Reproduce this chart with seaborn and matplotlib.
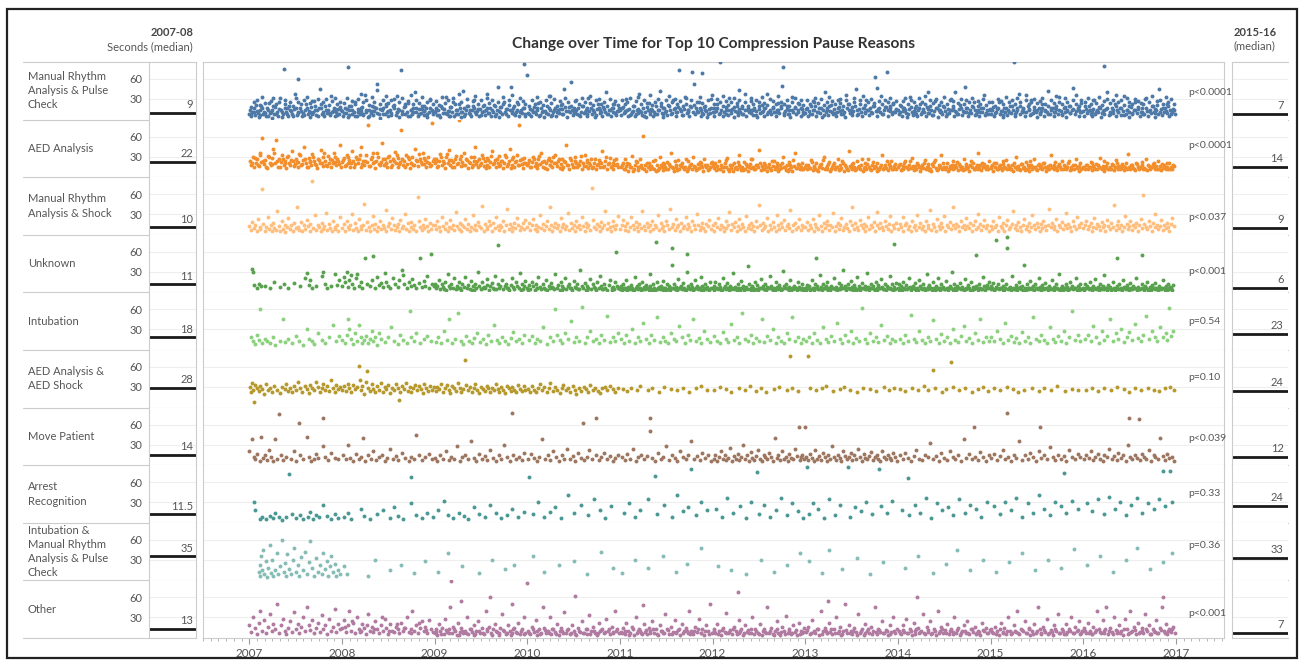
import matplotlib.pyplot as plt
import matplotlib.patches as patches
import matplotlib.ticker as mticker
from matplotlib.lines import Line2D
import pandas as pd
import seaborn as sns

W, H = 1304, 666

reasons = [
    'Manual Rhythm\nAnalysis & Pulse\nCheck',
    'AED Analysis',
    'Manual Rhythm\nAnalysis & Shock',
    'Unknown',
    'Intubation',
    'AED Analysis &\nAED Shock',
    'Move Patient',
    'Arrest\nRecognition',
    'Intubation &\nManual Rhythm\nAnalysis & Pulse\nCheck',
    'Other',
]
colors = ['#4e79a7', '#f28e2b', '#ffbe7d', '#59a14f', '#8cd17d',
          '#b6992d', '#9d7660', '#499894', '#86bcb6', '#b07aa1']
median_0708 = [9, 22, 10, 11, 18, 28, 14, 11.5, 35, 13]
median_1516 = [7, 14, 9, 6, 23, 24, 12, 24, 33, 7]
p_values = ['p<0.0001', 'p<0.0001', 'p<0.037', 'p<0.001', 'p=0.54',
            'p=0.10', 'p<0.039', 'p=0.33', 'p=0.36', 'p<0.001']
years = list(range(2007, 2017))

# pauses: one string per year (2007..2016),
# token "hh:s" = hundredths of the year : pause length in seconds
manual_pulse = [
    "00:8 01:14 02:4 03:11 05:17 06:6 07:21 09:9 10:3 12:13 13:19 15:7 16:11 18:5 19:16 21:24 22:9 24:2 25:14 27:8 28:18 30:11 31:5 33:31 34:13 36:7 37:75 38:16 40:10 42:4 43:20 45:12 46:8 48:15 49:38 51:6 52:60 53:11 55:17 57:4 58:9 60:14 61:22 63:7 64:12 66:3 67:18 69:10 70:27 72:6 73:13 75:16 76:45 78:8 79:11 81:4 82:19 84:9 85:14 87:6 88:34 90:12 91:17 93:5 94:10 96:15 97:8 99:13",
    "00:12 01:5 03:16 04:9 06:78 07:3 08:13 10:19 11:7 13:10 14:26 16:4 17:15 19:8 20:12 22:18 23:6 25:36 26:11 28:3 29:14 31:9 32:20 34:6 35:12 37:16 38:44 40:8 41:2 43:13 44:17 46:7 47:22 49:10 50:5 52:14 53:9 55:19 56:30 58:6 59:11 61:15 62:3 64:73 65:12 67:18 68:7 70:10 71:24 73:5 74:14 76:8 77:17 79:40 80:11 82:4 83:15 85:9 86:20 88:6 89:12 91:16 92:3 94:10 95:28 97:14 98:7",
    "00:10 01:17 03:6 04:13 06:3 07:19 09:9 10:15 12:33 13:7 15:12 16:4 18:18 19:10 21:5 22:23 24:13 25:8 27:16 28:3 30:11 31:42 33:7 34:14 36:20 37:9 39:5 40:13 42:17 43:28 45:8 46:12 48:4 49:15 51:10 52:19 54:6 55:13 57:38 58:9 60:16 61:5 63:11 64:21 66:7 67:14 69:3 70:12 72:18 73:8 75:26 76:10 78:15 79:5 81:13 82:48 84:9 85:17 87:6 88:11 90:22 91:4 93:14 94:9 96:82 97:16 98:7",
    "00:66 01:9 03:15 04:4 06:11 07:18 09:7 10:13 12:24 13:5 15:16 16:10 18:3 19:12 21:19 22:8 24:14 25:35 27:6 28:11 30:17 31:4 33:13 34:9 36:21 37:15 39:7 40:45 42:12 43:3 45:18 46:10 48:14 49:6 51:27 52:12 54:8 55:16 57:4 58:11 60:20 61:9 63:14 64:5 66:31 67:12 69:17 70:7 72:10 73:3 75:15 76:23 78:9 79:13 81:5 82:18 84:11 85:40 87:7 88:14 90:4 91:16 93:10 94:22 96:6 97:12 99:17",
    "00:13 01:6 03:18 04:9 06:12 07:30 09:5 10:15 12:8 13:11 15:20 16:4 18:14 19:9 21:38 22:12 24:6 25:17 27:10 28:3 30:13 31:24 33:8 34:15 36:5 37:11 39:19 40:7 42:14 43:42 45:9 46:3 48:16 49:11 51:6 52:21 54:13 55:8 57:28 58:15 60:4 61:10 63:18 64:73 66:12 67:6 69:15 70:33 72:9 73:13 75:4 76:19 78:70 79:11 81:7 82:16 84:10 85:25 87:5 88:14 89:69 90:8 91:18 93:12 94:3 96:15 97:9 99:36",
    "00:11 01:16 02:5 04:12 05:22 07:8 08:85 09:14 11:4 12:10 14:18 15:7 17:13 18:31 20:9 21:15 23:3 24:12 26:19 27:6 29:44 30:11 32:16 33:8 35:13 36:4 38:20 39:10 41:14 42:27 44:6 45:17 47:12 48:3 50:15 51:9 53:21 54:12 56:5 57:16 59:38 60:10 62:14 63:7 65:18 66:11 68:4 69:13 71:24 72:9 74:16 75:50 76:78 77:6 78:12 80:19 81:8 83:14 84:3 86:33 87:11 89:17 90:7 92:13 93:22 95:5 96:15 98:10",
    "00:9 01:15 03:4 04:12 06:19 07:7 09:13 10:26 12:5 13:11 15:17 16:9 18:3 19:14 21:40 22:10 24:16 25:6 27:12 28:21 30:8 31:15 33:4 34:11 36:18 37:30 39:7 40:13 42:10 43:3 45:16 46:23 48:9 49:14 51:6 52:12 54:19 55:45 57:8 58:15 60:11 61:4 63:17 64:10 66:28 67:13 69:6 70:16 72:9 73:20 75:63 76:12 78:5 79:15 81:10 82:35 84:7 85:14 87:18 88:70 89:4 91:12 92:16 94:8 95:24 97:11 98:14",
    "00:14 01:8 03:19 04:5 06:12 07:16 09:9 10:3 12:15 13:33 15:11 16:6 18:17 19:10 21:4 22:13 24:22 25:8 27:15 28:11 30:5 31:18 33:41 34:9 36:14 37:6 39:12 40:27 42:16 43:3 45:10 46:14 48:7 49:19 51:12 52:5 54:15 55:9 57:30 58:13 60:17 61:4 63:11 64:8 66:15 67:21 69:6 70:12 72:48 73:10 75:16 76:4 78:13 79:9 81:18 82:25 84:7 85:11 87:14 88:5 90:17 91:10 93:36 94:6 96:13 97:8 99:15",
    "00:7 01:13 03:18 04:4 06:11 07:15 09:26 10:8 12:12 13:3 15:16 16:10 18:6 19:14 21:20 22:9 24:13 25:85 26:5 28:11 29:17 31:38 32:7 34:12 35:15 37:4 38:10 40:19 41:13 43:6 44:29 46:9 47:14 49:11 50:3 52:16 53:8 55:12 56:22 58:5 59:14 61:10 62:42 64:7 65:13 67:17 68:4 70:11 71:15 73:8 74:33 76:12 77:6 79:16 80:10 82:3 83:13 85:20 86:9 88:14 89:47 91:7 92:12 94:16 95:5 97:10 98:24",
    "00:12 01:5 03:15 04:9 06:19 07:13 09:4 10:11 12:28 13:7 15:14 16:10 18:17 19:3 21:12 22:79 23:8 25:15 26:40 28:6 29:11 31:16 32:9 34:22 35:4 37:13 38:10 40:17 41:6 43:12 44:35 46:8 47:14 49:3 50:11 52:18 53:7 55:13 56:25 58:9 59:15 61:4 63:11 64:16 66:7 67:30 69:12 70:5 72:14 73:9 75:19 76:11 78:3 79:13 81:8 82:45 84:15 85:6 87:11 88:17 90:9 91:22 93:5 94:13 96:10 97:15 99:7",
]
manual_pulse_more = [
    "02:18 02:7 05:25 05:11 08:12 08:29 11:6 11:21 14:16 14:33 17:9 17:24 20:13 20:4 23:27 23:10 26:19 26:31 29:7 29:22 32:15 32:26 35:10 35:3 38:23 38:29 41:17 41:8 44:26 44:14 47:5 47:20 50:31 50:16 53:9 53:25 56:22 56:12 59:28 59:6 62:17 62:33 65:11 65:24 68:8 68:27 71:20 71:14 74:30 74:5 77:16 77:23 80:25 80:7 83:14 83:30 86:21 86:9 89:27 89:11 92:15 92:32 95:22 95:6 98:18 98:26",
    "02:24 02:9 05:15 05:31 08:6 08:20 11:27 11:13 14:4 14:22 17:30 17:11 20:17 20:38 23:8 23:25 26:14 26:29 29:21 29:5 32:33 32:12 35:18 35:26 38:9 38:52 41:23 41:15 44:7 44:28 47:19 47:34 50:12 50:24 53:29 53:6 56:16 56:21 59:10 59:35 62:25 62:13 65:31 65:8 68:19 68:23 71:5 71:27 74:14 74:36 77:22 77:10 80:28 80:17 83:7 83:24 86:33 86:15 89:12 89:20 92:26 92:8 95:30 95:16 98:11 98:23",
    "02:13 02:27 05:21 05:6 08:33 08:16 11:9 11:24 14:28 14:12 17:18 17:5 20:25 20:31 23:14 23:7 26:22 26:37 29:11 29:26 32:17 32:4 35:30 35:20 38:13 38:8 41:27 41:19 44:34 44:10 47:15 47:23 50:6 50:29 53:21 53:12 56:31 56:17 59:9 59:24 62:14 62:28 65:20 65:5 68:26 68:48 71:11 71:18 74:23 74:33 77:7 77:15 80:29 80:21 83:12 83:36 86:19 86:8 89:25 89:14 92:31 92:10 95:17 95:27 98:22 98:5",
    "02:20 02:8 05:29 05:14 08:11 08:23 11:33 11:17 14:6 14:26 17:21 17:12 20:28 20:9 23:16 23:35 26:24 26:5 29:13 29:30 32:19 32:10 35:27 35:15 38:7 38:22 41:31 41:18 44:12 44:25 47:20 47:55 50:9 50:17 53:29 53:14 56:23 56:6 59:32 59:19 62:11 62:26 65:16 65:8 68:24 68:34 71:13 71:21 74:28 74:6 77:17 77:30 80:10 80:22 83:25 83:15 86:19 86:7 89:30 89:13 92:23 92:16 95:9 95:27 98:21 98:12",
    "02:17 02:28 05:10 05:23 08:25 08:14 11:6 11:31 14:20 14:12 17:27 17:8 20:15 20:33 23:22 23:11 26:29 26:5 29:18 29:24 32:10 32:36 35:21 35:14 38:26 38:7 41:13 41:30 44:19 44:24 47:8 47:16 50:28 50:12 53:34 53:20 56:9 56:25 59:17 59:30 62:11 62:22 65:27 65:15 68:6 68:19 71:23 71:32 74:14 74:10 77:29 77:18 80:21 80:52 83:12 83:26 86:16 86:33 89:9 89:24 92:20 92:13 95:28 95:7 98:17 98:30",
    "02:23 02:11 05:30 05:16 08:9 08:25 11:19 11:34 14:13 14:27 17:6 17:21 20:26 20:14 23:18 23:32 26:10 26:24 29:29 29:15 32:7 32:20 35:25 35:38 38:13 38:17 41:31 41:9 44:22 44:14 47:28 47:6 50:19 50:26 53:11 53:33 56:24 56:16 59:8 59:21 62:30 62:12 65:17 65:27 68:23 68:10 71:14 71:35 74:26 74:19 77:9 77:22 80:29 80:15 83:20 83:7 86:25 86:13 89:31 89:18 92:10 92:24 95:16 95:28 98:21 98:8",
    "02:16 02:29 05:8 05:22 08:27 08:13 11:20 11:32 14:10 14:24 17:30 17:17 20:6 20:21 23:25 23:14 26:33 26:19 29:11 29:27 32:22 32:9 35:16 35:29 38:24 38:12 41:7 41:20 44:28 44:36 47:14 47:23 50:18 50:10 53:31 53:25 56:13 56:6 59:22 59:28 62:17 62:34 65:9 65:21 68:26 68:14 71:30 71:11 74:19 74:24 77:12 77:47 80:27 80:16 83:8 83:22 86:29 86:18 89:13 89:25 92:32 92:20 95:10 95:23 98:27 98:15",
    "02:21 02:10 05:27 05:17 08:14 08:32 11:8 11:23 14:29 14:18 17:12 17:25 20:20 20:7 23:31 23:16 26:11 26:26 29:22 29:35 32:15 32:9 35:28 35:19 38:6 38:24 41:17 41:30 44:13 44:21 47:26 47:10 50:33 50:18 53:8 53:23 56:29 56:14 59:19 59:27 62:12 62:40 65:24 65:7 68:16 68:30 71:22 71:11 74:28 74:17 77:9 77:25 80:20 80:32 83:14 83:6 86:27 86:19 89:11 89:23 92:30 92:16 95:21 95:9 98:26 98:13",
    "02:25 02:13 05:9 05:20 08:30 08:17 11:12 11:27 14:22 14:6 17:16 17:33 20:26 20:11 23:19 23:29 26:8 26:23 29:31 29:14 32:20 32:26 35:10 35:17 38:28 38:36 41:15 41:22 44:7 44:25 47:30 47:18 50:13 50:24 53:27 53:9 56:17 56:32 59:23 59:12 62:8 62:20 65:29 65:16 68:24 68:11 71:19 71:34 74:14 74:26 77:22 77:7 80:31 80:18 83:12 83:25 86:20 86:9 89:28 89:15 92:23 92:36 95:13 95:19 98:29 98:10",
    "02:19 02:26 05:12 05:31 08:22 08:8 11:28 11:15 14:11 14:24 17:33 17:18 20:9 20:21 23:27 23:14 26:17 26:30 29:24 29:7 32:13 32:28 35:20 35:36 38:10 38:25 41:29 41:16 44:21 44:6 47:14 47:32 50:26 50:19 53:9 53:23 56:30 56:13 59:18 59:27 62:24 62:11 65:7 65:22 68:31 68:17 71:12 71:26 74:20 74:34 77:15 77:9 80:27 80:21 83:10 83:29 86:23 86:16 89:33 89:12 92:19 92:25 95:8 95:30 98:22 98:14",
]
aed_analysis = [
    "01:24 02:18 04:30 05:14 07:21 08:27 10:16 11:36 13:22 14:58 16:19 17:25 19:13 20:31 22:21 23:17 25:28 26:42 28:20 29:55 31:15 32:26 34:22 35:33 37:18 38:24 40:13 41:29 43:21 44:17 46:38 47:23 49:19 50:27 52:15 53:22 55:32 56:18 58:25 59:45 61:20 62:14 64:28 65:22 67:17 68:34 70:24 71:19 73:13 74:26 76:21 77:40 79:16 80:29 82:23 83:18 85:31 86:20 88:14 89:25 91:36 92:22 94:17 95:27 97:19 98:48",
    "00:22 02:28 03:16 05:33 06:20 08:25 09:14 11:38 12:23 14:19 15:30 17:21 18:27 20:15 21:44 23:24 24:18 26:32 27:22 28:78 30:16 31:26 33:20 34:35 36:13 37:24 39:29 40:19 42:22 43:50 45:17 46:27 48:21 49:14 51:31 52:23 54:18 55:26 57:37 58:20 60:15 61:28 63:22 64:70 66:17 67:24 69:33 70:19 72:26 73:13 75:21 76:30 78:18 79:41 81:23 82:16 84:27 85:22 87:35 88:19 90:25 91:14 93:29 94:21 96:17 97:81 98:24",
    "00:20 02:27 03:15 05:24 06:34 08:18 09:23 11:13 12:29 14:21 15:40 17:17 18:25 20:22 21:14 23:31 24:19 26:85 27:26 29:16 30:22 32:36 33:18 35:25 36:13 38:21 39:30 41:17 42:24 44:45 45:19 47:14 48:27 50:21 51:33 53:16 54:23 56:18 57:28 59:14 60:22 62:38 63:19 65:25 66:15 68:21 69:31 71:17 72:24 74:13 75:20 77:29 78:16 80:23 81:42 83:18 84:26 86:14 87:22 89:33 90:17 91:78 92:25 94:19 95:13 97:28 98:21",
    "00:18 02:25 03:14 05:22 06:30 08:16 09:21 11:13 12:27 14:19 15:35 17:15 18:23 20:20 21:12 23:28 24:17 26:24 27:14 29:21 30:32 32:16 33:23 35:13 36:19 38:26 39:15 41:22 42:47 44:17 45:12 47:25 48:19 50:15 51:29 53:21 54:14 56:18 57:24 59:12 60:20 62:33 63:16 65:22 66:13 68:18 69:27 71:15 72:21 74:11 75:17 77:25 78:14 80:20 81:38 83:16 84:23 86:12 87:19 89:28 90:15 92:21 93:11 95:18 96:26 98:14",
    "01:14 03:20 04:11 06:26 07:16 09:9 10:19 12:14 13:31 15:12 16:17 18:22 19:10 21:15 22:27 24:13 25:61 27:18 28:9 30:14 31:21 33:11 34:16 36:24 37:12 39:8 40:18 42:13 43:29 45:15 46:10 48:19 49:14 51:22 52:11 54:16 55:36 57:13 58:9 60:18 61:14 63:25 64:11 66:16 67:20 69:12 70:15 72:9 73:23 75:14 76:17 78:11 79:30 81:15 82:10 84:19 85:13 87:21 88:16 90:9 91:26 93:14 94:18 96:11 97:15 99:22",
    "01:13 02:19 04:10 05:16 07:24 08:12 10:15 11:9 13:20 14:14 16:28 17:11 19:17 20:13 22:9 23:21 25:15 26:12 28:33 29:17 31:10 32:14 34:22 35:12 37:16 38:9 40:19 41:13 43:26 44:15 46:11 47:18 49:14 50:40 52:10 53:16 55:21 56:12 58:15 59:8 61:19 62:13 64:24 65:16 67:11 68:14 70:20 71:9 73:17 74:13 76:29 77:15 79:10 80:18 82:12 83:22 85:14 86:9 88:16 89:35 91:13 92:19 94:11 95:15 97:21 98:12",
    "00:15 02:11 03:18 05:13 06:25 08:10 09:16 11:12 12:21 14:9 15:14 17:19 18:13 20:30 21:11 23:16 24:12 26:22 27:9 29:15 30:18 32:11 33:14 35:27 36:10 38:17 39:13 41:20 42:9 44:15 45:12 47:38 48:16 50:11 51:19 53:14 54:10 56:23 57:15 59:12 60:17 62:9 63:13 65:20 66:11 68:26 69:14 71:10 72:18 74:13 75:16 77:9 78:21 80:12 81:15 83:32 84:11 86:17 87:13 89:10 90:19 92:14 93:24 95:11 96:16 98:12",
    "00:14 02:19 03:10 05:16 06:12 08:23 09:15 11:11 12:18 14:13 15:28 17:10 18:16 20:12 21:20 23:14 24:9 26:17 27:13 29:25 30:11 32:15 33:19 35:12 36:9 38:16 39:22 41:13 42:10 44:18 45:14 47:33 48:11 50:15 51:12 53:20 54:9 56:16 57:13 59:24 60:11 62:17 63:14 65:10 66:19 68:12 69:15 71:27 72:11 74:16 75:13 77:9 78:18 80:14 81:21 83:11 84:15 86:12 87:36 89:17 90:10 92:14 93:19 95:12 96:16 98:23",
    "00:13 02:17 03:9 05:14 06:21 08:11 09:16 11:13 12:10 14:19 15:14 17:25 18:11 20:15 21:12 23:18 24:9 26:14 27:30 29:12 30:16 32:10 33:19 35:13 36:15 38:22 39:11 41:14 42:9 44:17 45:12 47:27 48:15 50:10 51:18 53:13 54:16 56:11 57:20 59:14 60:9 62:16 63:12 65:33 66:15 68:11 69:17 71:13 72:10 74:19 75:14 77:24 78:11 80:16 81:12 83:15 84:20 86:10 87:14 89:17 90:12 92:26 93:13 95:9 96:16 98:11",
    "00:15 02:11 03:18 05:12 06:14 08:22 09:10 11:16 12:13 14:19 15:11 17:14 18:28 20:12 21:16 23:9 24:13 26:20 27:11 29:15 30:12 32:17 33:10 35:25 36:14 38:11 39:16 41:13 42:19 44:10 45:15 47:12 48:34 50:14 51:11 53:17 54:13 56:10 57:21 59:15 60:12 62:14 63:18 65:11 66:13 68:27 69:10 71:16 72:12 74:15 75:19 77:11 78:14 80:12 81:23 83:16 84:10 86:13 87:17 89:11 90:15 92:12 93:20 95:14 96:11 98:16",
]
aed_analysis_more = [
    "03:20 06:28 09:17 12:33 15:24 18:14 21:29 24:19 27:36 30:23 33:15 36:27 39:20 42:31 45:25 48:16 51:22 54:34 57:19 60:27 63:14 66:24 69:30 72:18 75:25 78:21 81:35 84:16 87:26 90:20 93:30 96:23 99:15",
    "01:25 04:18 07:30 10:21 13:14 16:27 19:33 22:19 25:24 29:16 32:29 35:22 38:35 41:17 44:26 47:20 50:30 53:15 56:24 59:32 62:19 65:26 68:14 71:29 74:21 77:17 80:25 83:34 86:19 89:28 92:22 95:16 99:27",
    "01:23 04:16 07:29 10:20 13:34 16:25 19:14 22:27 25:20 28:31 31:17 34:26 37:22 40:15 43:30 46:23 49:18 52:28 55:13 58:25 61:31 64:20 67:27 70:16 73:24 76:33 79:19 82:13 85:29 88:24 91:17 94:27 97:20",
    "01:21 04:14 07:27 10:18 13:31 16:22 19:13 22:25 25:17 28:30 31:20 34:26 37:12 40:23 43:18 46:28 49:14 52:24 55:19 58:31 61:16 64:25 67:20 70:13 73:27 76:19 79:22 82:15 85:29 88:21 91:16 94:25 97:19",
    "02:17 05:12 08:21 11:15 14:9 17:24 20:14 23:18 26:11 29:20 32:16 35:13 38:25 41:10 44:17 47:21 50:12 53:19 56:15 59:23 62:10 65:18 68:14 71:26 74:12 77:19 80:16 83:11 86:22 89:15 92:18 95:10 98:20",
    "00:16 03:21 06:11 09:18 12:14 15:25 18:9 21:17 24:13 27:22 30:15 33:10 36:19 39:14 42:26 45:12 48:17 51:21 54:11 57:18 60:14 63:10 66:23 69:16 72:12 75:20 78:15 81:9 84:18 87:25 90:13 93:17 96:11",
    "01:18 04:13 07:22 10:15 13:10 16:17 19:25 22:13 25:19 28:11 31:21 34:15 37:12 40:24 43:17 46:10 49:14 52:20 55:12 58:16 61:27 64:14 67:19 70:12 73:22 76:15 79:10 82:18 85:13 88:24 91:16 94:11 97:19",
    "01:17 04:12 07:20 10:14 13:24 16:16 19:11 22:18 25:13 28:21 31:15 34:10 37:19 40:25 43:12 46:16 49:20 52:14 55:11 58:18 61:13 64:22 67:16 70:10 73:19 76:14 79:24 82:12 85:17 88:13 91:20 94:15 97:11",
    "01:15 04:20 07:12 10:17 13:24 16:13 19:18 22:11 25:21 28:15 31:12 34:19 37:10 40:17 43:23 46:14 49:11 52:19 55:15 58:21 61:12 64:17 67:13 70:22 73:16 76:11 79:18 82:14 85:24 88:12 91:18 94:15 97:21",
    "01:13 04:18 07:15 10:21 13:11 16:17 19:13 22:24 25:16 28:12 31:19 34:14 37:21 40:11 43:16 46:20 49:13 52:17 55:11 58:19 61:15 64:22 67:12 70:17 73:14 76:20 79:16 82:12 85:19 88:14 91:21 94:11 97:17",
]
manual_shock = [
    "00:12 02:6 03:18 05:9 06:14 08:4 09:22 11:10 12:7 14:67 15:15 17:5 18:11 20:26 21:8 23:13 24:4 26:17 27:9 29:6 30:35 32:12 33:5 35:19 36:8 38:14 39:3 41:10 42:24 44:7 45:13 47:5 48:16 50:9 51:40 53:11 54:6 56:18 57:4 59:13 60:8 62:21 63:12 65:5 66:15 68:79 69:9 71:28 72:6 74:13 75:10 77:4 78:17 80:8 81:12 83:32 84:6 86:15 87:9 89:4 90:20 92:11 93:7 95:14 96:5 98:25",
    "00:9 02:15 03:5 05:20 06:11 08:7 09:13 11:30 12:6 14:16 15:9 17:4 18:22 20:12 21:8 23:14 24:45 26:6 27:18 29:10 30:5 32:13 33:27 35:8 36:15 38:4 39:11 41:19 42:7 44:14 45:9 47:36 48:5 50:12 51:17 53:8 54:24 56:13 57:6 59:10 60:15 62:4 63:21 65:9 66:12 68:30 69:7 71:16 72:5 74:11 75:18 77:8 78:13 80:4 82:55 83:20 84:10 86:6 87:14 89:9 90:23 92:12 93:5 95:17 96:8 98:13",
    "00:14 02:7 03:19 05:10 06:5 08:25 09:12 11:8 12:16 14:4 15:11 17:21 18:9 20:14 21:6 23:33 24:12 26:8 27:17 29:5 30:13 32:10 33:22 35:7 36:15 38:4 39:11 41:29 42:8 44:14 45:6 47:18 48:12 50:9 51:42 53:5 54:15 56:11 57:7 59:20 60:13 62:4 63:16 65:9 66:26 68:12 69:6 71:14 72:10 74:19 75:5 77:13 78:37 80:8 81:15 83:11 84:4 86:17 87:9 89:24 90:13 92:6 93:11 95:16 96:8 98:21",
    "00:10 02:17 03:6 05:13 06:22 08:8 09:14 11:4 12:11 14:28 15:9 17:15 18:6 20:12 21:19 23:8 24:40 26:14 27:5 29:11 30:17 32:9 33:13 35:4 36:24 38:10 39:15 41:7 42:12 44:31 45:6 47:16 48:9 50:13 51:5 53:20 54:11 56:14 57:8 59:26 60:12 62:5 63:17 65:10 66:14 68:6 70:69 71:21 72:11 74:8 75:15 77:12 78:4 80:18 81:9 83:13 84:34 86:7 87:16 89:10 90:5 92:19 93:12 95:8 96:14 98:27",
    "00:8 02:14 03:21 05:6 06:12 08:16 09:4 11:10 12:26 14:13 15:7 17:18 18:11 20:5 21:15 23:9 24:34 26:12 27:6 29:17 30:10 32:14 33:4 35:20 36:8 38:13 39:11 41:28 42:6 44:16 45:9 47:12 48:5 50:19 51:13 53:8 54:38 56:11 57:15 59:6 60:22 62:10 63:14 65:4 66:17 68:9 69:12 71:25 72:7 74:15 75:11 77:5 78:19 80:13 81:8 83:30 84:14 86:6 87:11 89:17 90:9 92:4 93:15 95:12 96:21 98:7",
    "00:13 02:5 03:16 05:10 06:24 08:7 09:14 11:11 12:4 14:19 15:9 17:13 18:33 20:6 21:15 23:10 24:18 26:5 27:12 29:22 30:8 32:15 33:11 35:4 36:27 38:9 39:14 41:7 42:17 44:12 45:5 47:20 48:10 50:44 51:13 53:6 54:16 56:9 57:12 59:24 60:5 62:14 63:8 65:18 66:11 68:4 69:29 71:13 72:7 74:16 75:10 77:21 78:6 80:12 81:15 83:9 84:36 86:5 87:13 89:17 90:8 92:11 93:23 95:6 96:14 98:10",
    "00:11 02:18 03:6 05:13 06:9 08:22 09:4 11:15 12:10 14:7 15:28 17:12 18:5 20:16 21:9 23:13 24:20 26:6 27:14 29:10 30:31 32:4 33:12 35:17 36:8 38:14 39:24 41:6 42:11 44:15 45:9 47:5 48:19 50:13 51:40 53:8 54:16 56:11 57:6 59:21 60:13 62:9 63:15 65:4 66:12 68:26 69:7 71:14 72:10 74:18 75:5 77:13 78:33 80:9 81:16 83:11 84:6 86:20 87:12 89:8 90:15 92:27 93:5 95:13 96:9 98:17",
    "00:7 02:15 03:11 05:25 06:5 08:13 09:17 11:8 12:12 14:4 15:20 17:10 18:14 20:6 21:29 23:11 24:16 26:8 27:12 29:5 30:19 32:13 33:9 35:36 36:6 38:15 39:11 41:4 42:22 44:12 45:8 47:16 48:10 50:27 51:5 53:14 54:11 56:18 57:7 59:13 60:40 62:9 63:15 65:12 66:5 68:20 69:10 71:14 72:7 74:24 75:12 77:9 78:16 80:4 81:13 83:19 84:8 86:30 87:11 89:15 90:6 92:12 93:21 95:9 96:14 98:5",
    "00:12 02:8 03:19 05:10 06:14 08:5 09:26 11:12 12:9 14:16 15:4 17:13 18:21 20:7 21:11 23:15 24:34 26:9 27:13 29:6 30:18 32:11 33:4 35:14 36:23 38:8 39:12 41:16 42:5 44:10 45:29 47:13 48:7 50:17 51:11 53:4 54:15 56:9 57:20 59:12 60:6 62:14 63:38 65:10 66:16 68:8 69:12 71:22 72:5 74:14 75:10 77:18 78:7 80:13 81:31 83:9 84:15 86:11 87:5 89:19 90:12 92:8 93:25 95:14 96:10 98:16",
    "00:9 02:14 03:20 05:7 06:12 08:16 09:5 11:11 12:24 14:9 15:15 17:12 18:6 20:18 21:10 23:14 24:4 26:21 27:12 29:8 30:16 32:11 33:44 35:6 36:13 38:19 39:9 41:14 42:5 44:11 45:27 47:15 48:8 50:12 51:20 53:6 54:14 56:10 57:17 59:5 60:13 62:23 63:9 65:58 66:15 68:11 69:7 71:19 72:12 74:5 75:16 77:10 78:30 80:14 81:8 83:12 84:21 86:6 87:13 89:9 90:17 92:11 93:5 95:15 96:24 98:12",
]
unknown = [
    "03:34 04:30 05:10 08:6 10:12 13:8 17:9 22:5 27:14 33:7 37:11 42:6 48:13 55:8 60:20 62:28 64:10 66:17 68:5 72:9 78:24 80:30 82:12 84:6 88:8 92:26 95:10 97:18",
    "00:9 02:22 03:14 05:30 06:7 08:18 10:25 11:11 13:6 15:20 16:27 18:9 20:14 22:5 25:50 27:12 30:8 32:18 34:54 36:6 38:22 40:10 42:13 44:7 46:28 48:15 50:9 52:5 55:21 57:12 60:7 62:17 65:32 66:25 67:11 70:6 72:14 74:8 76:19 78:10 80:5 83:13 84:50 86:7 88:16 90:9 92:24 94:6 96:57 97:12 99:8",
    "00:12 02:5 03:9 05:18 06:4 08:11 09:7 11:14 12:3 14:26 15:8 17:5 18:12 20:6 21:20 23:4 24:9 26:15 27:6 29:3 30:11 32:7 33:22 35:5 36:10 38:4 39:16 41:8 42:3 44:12 45:6 47:30 48:9 50:4 51:14 53:7 54:5 56:19 57:10 59:3 60:8 62:13 63:6 65:24 66:4 68:70 68:11 70:5 71:9 73:18 74:4 76:8 77:12 79:6 80:3 82:10 83:21 85:7 86:4 88:14 89:9 91:5 92:28 94:11 95:4 97:8 98:16",
    "00:6 02:10 03:4 05:15 06:8 08:3 09:12 11:5 12:22 14:7 15:4 17:11 18:6 20:17 21:3 23:9 24:5 26:13 27:7 29:4 30:26 32:6 33:10 35:3 36:14 38:8 39:5 41:20 42:4 44:9 45:12 47:6 48:3 50:16 51:7 53:5 54:11 56:4 57:33 59:8 60:5 62:13 63:3 65:9 66:6 68:19 69:4 71:11 72:7 74:3 75:15 77:5 78:24 80:8 81:4 83:12 84:6 86:3 88:10 89:18 91:5 92:7 94:4 95:14 96:60 97:9 99:5",
    "00:4 01:8 02:3 03:12 04:6 06:5 07:18 08:3 09:7 11:4 12:10 13:6 14:3 16:22 17:5 18:8 19:4 21:12 22:6 23:3 24:15 26:7 27:4 28:10 29:5 31:3 32:26 33:8 34:4 36:11 37:6 38:3 39:75 40:14 41:5 42:7 43:4 44:9 46:3 47:16 48:6 49:5 51:11 52:4 53:8 54:3 56:40 56:66 57:6 58:12 59:4 61:7 62:3 63:19 64:5 66:9 67:4 68:13 69:6 71:3 72:57 72:30 73:8 74:5 76:4 77:11 78:7 79:3 81:17 82:5 83:9 84:4 86:6 87:3 88:22 89:8 91:5 92:12 93:4 94:7 96:3 97:15 98:6",
    "00:5 01:9 02:3 03:14 04:6 06:4 07:11 08:7 09:3 11:20 12:5 13:8 14:4 16:13 17:6 18:3 19:9 21:5 22:28 23:4 24:7 26:3 27:12 28:6 29:4 31:16 32:5 33:9 34:3 36:7 37:4 38:38 39:11 41:5 42:3 43:8 44:6 46:14 47:4 48:10 49:3 51:6 52:19 53:5 54:8 56:4 57:12 58:3 59:7 61:5 62:24 63:9 64:4 66:6 67:3 68:15 69:7 71:4 72:10 73:5 74:3 76:31 77:8 78:5 79:12 81:4 82:7 83:3 84:18 86:6 87:4 88:9 89:5 91:3 92:14 93:7 94:4 96:11 97:5 98:3",
    "00:6 01:3 02:10 03:5 04:8 06:4 07:17 08:6 09:3 11:12 12:51 12:5 13:9 14:4 16:25 17:7 18:3 19:11 21:5 22:8 23:4 24:14 26:6 27:3 28:9 29:5 31:20 32:4 33:7 34:3 36:13 37:6 38:4 39:10 41:33 42:5 43:8 44:3 46:12 47:6 48:4 49:16 51:7 52:3 53:10 54:5 56:22 57:4 58:8 59:3 61:13 62:6 63:5 64:9 66:4 67:28 68:7 69:3 71:11 72:5 73:8 74:4 76:15 77:6 78:3 79:10 81:5 82:19 83:7 84:4 86:12 87:3 88:8 89:5 91:24 92:6 93:4 94:11 96:72 96:7 97:4 98:13",
    "00:5 01:11 02:4 03:8 04:3 06:15 07:6 08:4 09:10 11:5 12:21 13:7 14:3 16:9 17:5 18:13 19:4 21:6 22:3 23:18 24:8 26:4 27:11 28:5 29:3 31:27 32:7 33:4 34:10 36:6 37:3 38:14 39:5 41:8 42:4 43:20 44:6 46:3 47:12 48:5 49:7 51:4 52:16 53:6 54:3 56:9 57:5 58:30 59:4 61:11 62:6 63:3 64:8 66:5 67:13 68:4 69:7 71:3 72:19 73:6 74:4 76:10 77:5 78:3 79:14 81:7 82:4 84:55 84:9 86:5 87:3 88:12 89:6 91:4 92:22 93:8 94:3 96:10 97:5 98:15",
    "00:4 01:9 02:5 03:13 04:3 06:78 06:7 07:5 08:11 09:4 11:6 12:17 13:3 14:9 16:5 17:12 18:82 18:66 19:4 21:7 22:3 23:24 24:6 26:4 27:10 28:5 29:3 31:14 32:7 33:4 34:9 36:40 37:5 38:3 39:11 41:6 42:4 43:16 44:5 46:8 47:3 48:12 49:6 51:4 52:20 53:7 54:3 56:10 57:5 58:4 59:13 61:6 62:3 63:8 64:5 66:18 67:4 68:7 69:3 71:11 72:5 73:4 74:27 76:6 77:9 78:3 79:5 81:12 82:4 83:7 84:3 86:15 87:5 88:9 89:4 91:6 92:21 93:3 94:8 96:5 97:12 98:4",
    "00:6 01:3 02:11 03:5 04:8 06:4 07:14 08:6 09:3 11:9 12:5 13:19 14:4 16:7 17:3 18:12 19:5 21:8 22:4 23:25 24:6 26:3 27:10 28:5 29:7 31:4 32:15 33:6 34:3 36:51 36:9 37:5 38:4 39:12 41:6 42:3 43:18 44:7 46:4 47:10 48:5 49:3 51:13 52:6 53:4 54:9 56:5 57:21 58:3 59:7 61:4 63:55 63:11 64:6 66:3 67:8 68:5 69:15 71:4 72:7 73:3 74:10 76:5 77:4 78:13 79:6 81:3 82:9 83:5 84:4 86:17 87:6 88:3 89:8 91:5 92:12 93:4 94:7 96:3 97:10",
]
unknown_more = [
    "",
    "",
    "10:4 25:6 40:3 52:5 64:4 78:6 93:3",
    "01:3 10:5 19:4 28:6 37:3 46:5 55:4 64:3 73:6 82:4 91:3 98:5",
    "01:5 05:4 10:6 15:3 20:5 25:4 30:6 35:3 40:4 45:5 50:3 55:6 60:4 65:5 70:3 75:6 80:4 85:5 90:3 95:4",
    "01:4 05:6 10:3 15:5 20:4 25:6 30:3 35:5 40:4 45:3 50:6 55:4 60:5 65:3 70:6 75:4 80:5 85:3 90:6 95:4",
    "01:5 05:3 10:6 15:4 20:5 25:3 30:6 35:4 40:5 45:6 50:4 55:3 60:6 65:4 70:5 75:3 80:6 85:4 90:5 95:3",
    "01:3 05:5 10:4 15:6 20:3 25:5 30:4 35:6 40:3 45:5 50:4 55:6 60:3 65:5 70:4 75:6 80:3 85:5 90:4 95:6",
    "01:6 05:4 10:5 15:3 20:6 25:4 30:5 35:3 40:6 45:4 50:5 55:3 60:6 65:4 70:5 75:3 80:6 85:4 90:5 95:3",
    "01:4 05:6 10:3 15:5 20:4 25:6 30:3 35:5 40:4 45:6 50:3 55:5 60:4 65:6 70:3 75:5 80:4 85:6 90:3 95:5",
]
intubation = [
    "02:18 04:12 06:8 08:22 10:14 12:60 14:10 17:16 19:12 22:9 26:18 28:6 33:13 36:45 39:11 42:15 46:9 50:20 54:12 58:7 62:30 64:16 68:12 70:8 74:24 78:14 82:10 86:18 90:36 94:12 97:20",
    "00:14 03:10 05:22 07:45 08:30 10:16 12:8 14:25 16:12 18:37 20:18 22:10 24:14 26:20 28:9 30:16 32:28 34:12 36:18 38:7 40:24 42:15 46:11 50:19 53:34 56:13 60:8 63:21 66:14 70:10 73:58 75:18 78:12 80:24 84:9 88:16 92:20 96:13",
    "01:11 04:18 07:9 10:28 13:14 16:45 19:10 22:16 25:55 28:12 31:8 34:20 37:13 40:9 43:17 46:24 49:11 52:15 55:8 58:21 61:12 64:36 67:14 70:10 73:19 76:13 79:8 82:17 85:26 88:12 91:15 94:9 97:22",
    "02:14 05:20 08:10 11:16 14:12 17:33 21:8 24:18 28:12 30:60 32:22 35:14 38:9 41:25 44:16 47:42 50:11 53:19 56:13 59:64 62:9 65:18 68:28 71:12 74:16 77:10 80:22 83:14 86:50 89:11 92:19 95:13 98:24",
    "01:16 04:10 07:21 10:13 13:30 16:9 19:18 22:12 25:40 28:15 31:10 34:22 37:14 40:48 43:11 46:19 49:13 52:9 55:25 58:15 61:12 64:35 67:18 70:10 73:22 76:14 79:45 82:12 85:17 88:10 91:28 94:15 97:11",
    "02:20 05:13 08:9 11:26 14:15 17:11 20:38 23:14 26:19 29:10 32:54 35:16 38:12 41:22 44:9 47:17 50:13 53:46 56:11 59:20 62:14 65:30 68:10 71:18 74:13 77:9 80:24 83:15 86:48 89:12 92:19 95:10 98:16",
    "01:12 04:18 07:10 10:24 13:14 16:9 19:33 22:16 25:11 28:20 31:13 34:40 37:15 40:10 43:21 46:13 49:28 52:9 55:17 58:12 61:62 64:15 67:10 70:25 73:13 76:18 79:11 82:36 85:14 88:20 91:9 94:16 97:12",
    "02:15 05:10 08:22 11:13 14:52 17:16 20:11 23:27 26:14 29:9 32:19 35:12 38:44 41:15 44:10 47:23 50:13 53:18 56:9 59:30 62:14 65:11 68:20 71:35 74:12 77:17 80:10 83:25 86:14 89:45 92:11 95:19 98:13",
    "01:18 04:12 07:28 10:15 13:10 16:40 19:14 22:20 25:11 28:17 31:9 34:26 37:13 40:19 43:10 46:48 49:15 52:12 55:22 58:14 61:9 64:33 67:16 70:11 73:20 76:13 79:28 82:10 85:18 88:58 91:14 94:22 97:12",
    "02:16 05:22 08:12 11:35 14:18 17:10 20:27 23:14 26:20 29:45 32:12 35:24 38:16 41:30 44:11 47:19 50:26 53:14 56:38 59:17 62:12 65:22 68:50 71:15 74:28 77:19 80:12 83:33 86:18 89:24 91:14 93:62 95:20 97:28",
]
aed_shock = [
    "01:30 02:22 03:36 04:26 05:7 06:33 08:28 10:24 12:31 14:27 16:20 18:34 20:25 22:29 25:23 27:32 30:26 33:21 35:30 38:27 40:35 42:24 44:29 46:22 48:31 50:26 53:38 55:28 57:23 60:32 62:27 64:21 66:33 68:29 70:25 72:37 74:30 76:22 78:28 80:34 82:26 84:31 86:24 88:40 90:28 92:23 94:33 96:27 98:30",
    "00:26 02:31 04:24 06:35 08:28 10:22 12:33 14:27 16:30 18:61 19:40 20:25 22:31 24:20 26:37 27:54 28:29 30:24 32:34 34:27 36:22 38:31 40:26 42:36 44:23 46:30 48:27 50:33 52:21 54:29 56:25 58:34 60:28 62:10 63:23 65:31 67:27 69:36 71:24 73:30 75:22 77:28 79:33 81:25 83:31 85:27 87:21 89:35 91:28 93:24 95:32 97:26 99:30",
    "01:24 03:30 05:27 07:35 09:22 11:29 13:33 15:26 17:21 19:31 21:28 23:24 25:36 27:29 29:22 31:27 33:70 34:33 36:25 38:30 40:23 42:28 44:34 46:26 48:21 50:30 52:27 54:24 56:32 58:28 60:22 62:29 64:25 66:35 68:27 70:23 72:30 74:26 76:21 78:32 80:28 82:24 84:30 86:26 88:22 90:33 92:27 94:24 96:31 98:25",
    "01:27 03:23 05:31 07:26 09:22 12:29 14:34 16:25 18:30 21:22 23:28 25:36 28:24 30:30 32:26 35:21 37:29 39:33 42:25 44:28 46:22 49:31 51:26 53:19 56:28 58:24 61:30 63:27 66:22 68:33 71:26 73:29 76:24 78:21 81:28 84:30 86:25 89:32 92:27 95:23 98:29",
    "03:27 08:24 12:29 18:26 22:31 30:25 35:28 42:23 48:30 55:27 62:25 68:29 75:22 82:28 88:31 94:26",
    "02:25 08:30 15:27 20:23 28:29 35:26 40:31 47:24 52:28 58:22 66:27 72:30 80:25 84:76 86:28 92:24",
    "03:76 05:29 12:25 18:28 22:31 30:24 37:27 42:30 48:26 56:22 62:29 70:27 76:24 85:30 90:26 96:28",
    "02:27 08:24 15:29 22:26 28:31 33:25 38:55 40:28 48:23 52:27 57:67 60:30 66:25 72:28 80:22 86:27 92:30 97:24",
    "04:28 10:25 18:30 24:27 30:22 36:26 45:29 52:24 58:28 65:26 72:31 80:24 88:27 94:25",
    "03:26 10:29 16:24 22:28 30:25 36:30 44:27 50:23 56:28 62:25 70:29 76:26 82:24 88:28 94:30 98:25",
]
move_patient = [
    "00:20 03:38 05:12 06:8 08:16 11:6 13:42 15:10 17:14 19:7 21:22 23:11 26:6 28:38 30:9 32:76 34:15 36:7 40:12 45:9 48:20 50:6 54:63 55:14 58:8 62:42 64:11 67:6 70:9 72:16 74:10 79:70 80:28 82:12 85:7 88:18 92:10 96:8",
    "01:14 04:8 06:30 09:10 12:6 15:16 18:9 20:12 23:40 25:6 28:14 31:9 34:20 37:7 40:11 43:15 46:6 49:10 52:24 55:8 58:13 61:7 65:18 68:10 72:6 75:12 78:9 80:45 83:14 86:7 90:11 94:16 97:8",
    "00:10 03:6 06:14 09:8 12:20 15:7 18:12 21:9 24:28 27:6 30:11 33:15 36:8 39:35 42:10 45:6 48:16 51:9 54:13 57:7 60:22 63:10 66:6 69:14 72:8 75:30 78:11 81:6 84:78 85:15 88:9 91:12 94:7 97:18",
    "01:8 04:16 07:10 10:6 13:12 16:38 19:9 22:14 25:7 28:20 31:11 34:6 37:15 40:9 43:24 46:8 49:13 52:6 55:17 58:10 60:63 61:7 64:12 67:22 70:9 74:70 74:14 77:7 80:11 83:18 86:8 89:13 92:6 95:10 98:15",
    "02:12 05:7 08:16 11:9 14:24 17:6 20:11 23:15 26:8 29:13 32:70 32:51 35:10 38:6 41:18 44:9 47:12 50:28 53:7 56:14 59:10 62:6 65:20 68:12 71:8 74:15 77:35 80:9 83:13 86:7 89:18 92:10 95:14 98:6",
    "01:9 03:15 05:6 07:12 09:20 11:8 13:14 15:7 17:10 19:25 21:6 23:13 25:9 27:16 29:7 31:11 33:30 35:8 37:14 39:6 41:19 43:10 45:7 47:13 49:22 51:9 53:6 55:15 57:11 59:8 61:18 63:12 65:6 67:40 69:10 71:14 73:7 75:20 77:9 79:12 81:6 83:16 85:10 87:8 89:24 91:13 93:56 94:7 95:11 97:15 99:9",
    "00:56 01:12 03:7 05:16 07:10 09:6 11:22 13:9 15:13 17:7 19:18 21:11 23:6 25:14 27:9 29:28 31:12 33:7 35:15 37:10 39:6 41:20 43:13 45:8 47:11 49:17 51:7 53:14 55:9 57:24 59:12 61:6 63:16 65:10 67:8 69:13 71:19 73:7 75:11 77:15 79:9 81:6 83:21 85:12 87:8 89:14 91:10 93:7 95:17 97:11 99:6",
    "02:14 05:8 08:18 11:10 14:6 17:13 20:22 23:9 26:7 29:15 32:11 35:32 38:8 41:13 44:6 47:17 50:10 53:7 56:20 59:12 62:8 65:14 68:6 71:38 74:10 77:16 80:8 82:56 83:12 86:7 89:19 92:11 95:6 98:14",
    "01:10 04:16 07:7 10:13 13:22 16:8 18:78 19:12 22:6 25:15 28:10 31:35 34:7 37:14 40:9 43:18 46:12 49:6 52:20 53:56 55:10 58:14 61:8 64:26 67:11 70:7 73:15 76:9 79:13 82:6 85:22 88:11 91:8 94:16 97:12",
    "01:8 03:14 06:10 08:20 11:7 13:12 16:16 18:9 21:6 23:14 26:11 28:24 31:8 33:13 36:7 38:18 41:10 43:15 46:6 48:30 50:70 51:12 53:8 56:14 58:10 60:69 61:7 63:16 66:12 68:9 71:22 73:6 76:14 78:11 81:8 83:40 86:13 88:7 91:16 93:10 96:12 98:6",
]
arrest_recognition = [
    "05:30 06:18 12:5 14:7 18:4 22:9 26:6 28:14 32:8 35:3 40:7 43:72 46:12 50:6 55:10 58:4 63:8 66:15 69:5 72:11 75:7 80:26 84:9 88:5 92:12 96:6",
    "02:8 06:14 10:5 20:20 24:9 30:4 38:12 44:18 52:6 56:22 60:9 66:4 74:67 75:28 80:10 86:6 92:14 98:8",
    "04:18 10:32 14:10 20:6 26:14 32:9 36:4 42:22 48:12 54:8 60:26 66:14 72:6 78:10 84:20 90:8 96:15",
    "02:67 06:12 12:30 18:8 24:15 30:22 36:6 44:40 50:14 58:26 66:10 72:34 78:18 84:6 90:24",
    "04:14 10:28 16:8 22:18 30:34 38:69 40:12 48:26 56:8 62:40 68:16 74:22 77:80 82:10 88:30 94:18",
    "04:20 10:8 16:36 22:14 30:24 36:6 42:30 48:75 50:12 56:26 62:8 68:18 74:36 80:10 86:28 92:16 98:6",
    "02:83 04:12 08:28 14:20 20:6 26:34 32:10 38:26 46:83 48:8 54:22 60:16 66:30 72:12 80:80 82:24 88:14 94:32",
    "04:18 11:66 12:10 18:26 24:14 30:36 36:6 42:28 48:18 54:22 60:10 66:34 72:14 78:26 84:20 90:8 96:30",
    "04:24 10:12 16:30 22:18 28:36 34:8 40:28 46:14 52:40 58:20 64:10 70:30 76:24 79:74 82:14 88:32 94:20",
    "04:28 10:16 16:34 22:12 28:38 34:20 40:30 46:10 52:26 58:36 64:14 70:28 76:20 82:34 86:77 88:24 94:77 96:30",
]
intubation_manual = [
    "10:12 11:22 12:6 13:35 14:15 15:45 16:9 18:28 19:4 20:18 22:52 23:10 25:30 26:6 28:14 30:40 31:8 33:20 35:60 37:12 39:25 40:5 41:38 43:16 45:8 47:30 48:48 50:12 52:22 54:6 56:34 58:15 60:42 62:9 64:26 66:58 68:18 70:5 72:32 74:12 76:22 78:8 80:40 82:16 84:28 85:6 87:20 88:35 90:11 92:24 94:6 96:15 98:9",
    "02:20 05:8 28:6 36:30 52:15 64:22 78:10 90:28",
    "04:12 14:40 30:20 48:10 62:30 76:16 86:22",
    "06:35 18:12 34:22 50:28 64:8 80:42 92:18",
    "02:10 16:30 30:18 46:35 60:12 72:24 88:48",
    "06:20 20:14 36:8 52:30 66:12 80:22 94:40",
    "04:28 18:10 26:45 40:16 56:32 70:8 84:26",
    "08:18 22:36 38:10 52:24 64:44 78:14 92:30",
    "06:12 20:26 34:40 48:14 62:30 76:18 90:46",
    "04:22 18:36 32:12 46:30 58:48 72:16 86:26 96:40",
]
other = [
    "00:18 02:8 04:30 06:14 08:5 10:22 12:40 14:10 16:26 18:6 20:16 22:35 24:9 26:20 28:12 30:50 32:7 34:18 36:28 38:10 40:5 42:14 44:24 46:8 48:38 50:12 52:20 54:6 56:15 58:30 60:9 62:45 64:18 66:11 68:26 70:6 72:14 74:22 76:8 78:34 80:12 82:18 84:5 86:28 88:10 90:16 92:42 94:8 96:20 98:12",
    "00:14 02:26 04:8 06:18 08:40 10:10 12:22 14:6 16:30 18:12 20:9 22:20 24:14 26:5 28:35 30:10 32:16 34:8 36:24 38:12 40:6 42:18 44:9 46:28 48:14 50:5 52:20 54:10 56:8 58:16 60:12 62:6 64:22 66:9 68:14 70:30 72:8 74:12 76:40 78:10 80:18 82:6 84:14 86:24 88:9 90:16 92:7 94:26 96:12 98:8",
    "00:6 02:12 03:4 05:20 06:9 08:14 10:5 11:28 13:8 15:12 17:45 18:84 19:6 20:16 22:10 24:4 25:22 27:8 28:55 29:14 31:6 33:10 35:30 36:5 38:12 40:8 42:18 43:4 45:10 47:25 49:7 51:14 53:5 55:40 57:9 59:16 60:60 61:6 63:12 65:20 67:8 69:4 71:14 73:35 75:9 77:5 79:18 81:10 83:50 84:6 86:14 88:8 90:22 92:5 94:12 96:30 98:7",
    "00:82 01:10 03:5 05:16 07:8 09:26 11:4 13:12 15:7 17:45 18:14 20:6 22:10 24:30 26:5 28:12 30:8 32:20 34:4 36:14 38:9 40:38 42:6 44:12 46:5 48:18 50:9 52:62 53:4 55:14 57:8 59:24 61:6 63:12 65:5 67:33 69:10 71:16 73:7 75:4 77:22 79:9 81:13 83:6 85:28 87:10 89:5 91:15 93:8 95:40 97:12 99:6",
    "01:8 03:14 05:5 07:22 09:10 11:6 13:16 15:4 17:30 19:9 21:12 23:6 25:48 26:20 27:8 29:5 31:14 33:10 35:24 37:6 39:12 41:4 43:18 45:9 47:7 49:35 51:12 53:5 55:16 57:8 59:26 61:6 63:11 65:4 67:20 69:9 71:14 73:6 75:40 77:10 79:5 81:15 83:8 85:28 87:6 89:12 91:4 93:18 95:9 97:50 99:7",
    "01:12 03:6 05:20 07:9 09:4 11:14 13:8 15:36 17:6 19:11 21:5 23:16 25:9 27:68 28:26 29:7 31:12 33:4 35:18 37:8 39:6 41:13 43:30 45:5 47:10 49:7 51:20 53:4 55:12 57:8 59:45 61:6 63:14 65:5 67:10 69:24 71:7 73:4 75:15 77:9 79:32 81:6 83:12 85:5 87:18 89:8 91:4 93:22 95:10 97:6 99:14",
    "01:8 03:16 05:5 07:26 09:10 11:6 13:12 15:4 17:40 19:9 21:14 23:6 25:55 26:22 27:8 29:5 31:12 33:30 35:7 37:15 39:4 41:10 43:50 45:6 47:18 49:9 51:5 53:14 55:8 57:35 59:6 61:12 63:4 65:20 67:9 69:6 71:16 73:10 75:45 77:5 79:13 81:8 83:25 85:6 87:11 89:4 91:18 93:8 95:30 97:6 99:12",
    "01:10 03:5 05:18 07:8 09:28 11:6 13:12 15:4 17:22 19:9 21:60 22:14 23:6 25:10 27:35 29:5 31:15 33:8 35:24 37:6 39:12 41:4 43:40 45:9 47:16 49:6 51:11 53:20 55:5 57:13 59:8 61:30 63:6 65:14 67:4 69:10 71:18 73:7 75:25 77:5 79:12 81:8 83:16 85:6 87:10 89:4 91:22 93:9 95:14 97:6 99:11",
    "01:12 03:6 05:16 07:9 09:4 11:22 13:8 15:14 17:5 19:30 21:10 23:6 25:18 27:8 29:40 31:5 33:12 35:9 37:24 39:6 41:14 43:4 45:10 47:20 49:7 51:45 53:12 55:5 57:16 59:8 61:28 63:6 65:11 67:4 69:18 71:9 73:35 75:6 77:13 79:5 81:20 83:8 85:12 87:30 89:6 91:15 93:9 95:24 97:5 99:10",
    "01:14 03:6 05:22 07:10 09:5 11:16 13:8 15:40 17:12 19:6 21:26 23:9 25:45 27:5 29:14 31:8 33:30 35:11 37:6 39:18 41:9 43:4 45:28 47:12 49:6 51:40 53:10 55:16 57:5 59:22 61:8 63:14 65:6 67:35 69:10 71:18 73:5 75:12 77:8 79:26 81:6 83:14 85:45 86:60 87:9 89:20 91:5 93:12 95:8 97:16 99:6",
]
other_more = [
    "",
    "03:15 11:24 19:8 27:18 35:12 43:30 51:9 59:20 67:14 75:6 83:22 91:11",
    "02:8 07:5 12:11 16:7 21:13 26:4 30:9 34:6 39:12 44:5 48:10 52:7 56:13 62:4 66:9 70:6 74:11 78:7 82:4 85:12 89:6 93:9 97:5",
    "02:7 06:12 10:9 14:5 19:11 23:7 27:13 31:5 35:9 39:6 43:11 47:7 51:5 56:10 60:7 64:12 68:5 72:9 76:6 80:11 84:8 88:12 92:6 96:9",
    "02:6 06:10 10:4 14:12 18:7 22:9 24:5 28:11 32:7 36:13 40:5 44:9 48:6 52:11 56:5 60:8 64:12 68:6 72:10 76:5 80:9 84:12 88:7 92:10 96:5",
    "02:9 06:5 10:11 14:6 18:8 22:12 26:5 30:9 34:6 38:11 42:7 46:12 50:5 54:9 58:6 62:10 66:4 70:12 74:8 78:5 82:10 86:7 90:11 94:5 98:8",
    "02:11 06:6 10:8 14:12 18:5 22:9 24:7 28:12 32:6 36:9 40:5 44:11 48:7 52:10 56:4 60:9 64:6 68:12 72:5 76:8 80:11 84:6 88:9 92:5 96:10",
    "02:6 06:11 10:7 14:9 18:5 20:12 24:8 28:6 32:11 36:5 40:9 44:7 48:12 52:6 56:9 60:5 64:11 68:7 72:10 76:6 80:12 84:5 88:8 92:11 96:6",
    "02:8 06:5 10:12 14:7 18:10 22:5 26:9 30:6 34:11 38:7 42:12 46:5 50:9 54:7 58:11 62:5 66:8 70:12 74:6 78:10 82:5 86:9 90:7 94:11 98:6",
    "02:10 06:7 10:5 14:11 18:8 22:6 24:12 28:9 32:5 36:10 40:7 44:12 48:5 52:8 56:11 60:6 64:9 68:12 72:5 76:10 80:7 84:11 88:6 92:9 96:12",
]

pause_data = [manual_pulse, aed_analysis, manual_shock, unknown, intubation,
              aed_shock, move_patient, arrest_recognition, intubation_manual, other]
more_data = {0: manual_pulse_more, 1: aed_analysis_more, 3: unknown_more, 9: other_more}

records = []
for i, (reason, per_year) in enumerate(zip(reasons, pause_data)):
    extra = more_data.get(i, [''] * len(years))
    for year, s, s2 in zip(years, per_year, extra):
        for tok in (s + ' ' + s2).split():
            f, sec = tok.split(':')
            records.append((reason, year + int(f) / 100, int(sec)))
df = pd.DataFrame(records, columns=['reason', 'date', 'seconds'])

# label y position (seconds) for the p-values, as placed in the original
p_y = [40, 47, 25, 30, 42, 44, 39, 43, 52, 36]

sns.set_theme(style='white')
plt.rcParams['font.family'] = ['Lato', 'DejaVu Sans']

TXT = '#555555'
GRID = '#eeeeee'
SEP = '#cccccc'
TOP, ROW_H = 62, 57.6
YLIM = (-1, 85.4)
XLIM = (2006.5, 2017.52)


def px_box(x0, y0, x1, y1):
    return [x0 / W, 1 - y1 / H, (x1 - x0) / W, (y1 - y0) / H]


def style_cell(ax, first):
    ax.set_ylim(*YLIM)
    ax.set_yticks([30, 60])
    ax.grid(axis='y', color=GRID, lw=0.8)
    ax.grid(axis='x', visible=False)
    ax.set_axisbelow(True)
    for side in ['left', 'right', 'bottom', 'top']:
        ax.spines[side].set_color(SEP)
        ax.spines[side].set_linewidth(0.8)
    ax.spines['top'].set_visible(first)
    ax.set_xlabel('')
    ax.set_ylabel('')


fig = plt.figure(figsize=(W / 100, H / 100), dpi=100)

for i, reason in enumerate(reasons):
    y0 = TOP + i * ROW_H
    y1 = y0 + ROW_H
    first = i == 0
    last = i == len(reasons) - 1

    # row label panel
    fig.text(28 / W, 1 - (y0 + y1) / 2 / H, reason, ha='left', va='center',
             fontsize=8, color=TXT, linespacing=1.35)
    fig.add_artist(Line2D([23 / W, 149 / W], [1 - y1 / H] * 2, color=SEP, lw=0.8))
    if first:
        fig.add_artist(Line2D([23 / W, 149 / W], [1 - y0 / H] * 2, color=SEP, lw=0.8))

    # 2007-08 median
    axl = fig.add_axes(px_box(149, y0, 196, y1))
    style_cell(axl, first)
    axl.set_xlim(0, 1)
    axl.set_xticks([])
    axl.set_yticklabels(['30', '60'])
    axl.tick_params(axis='y', length=0, pad=4.5, labelsize=8, labelcolor=TXT)
    m = median_0708[i]
    axl.hlines(m, 0, 1, color='#1a1a1a', lw=2)
    axl.annotate(f'{m:g}', xy=(0.94, m), xycoords=('axes fraction', 'data'),
                 xytext=(0, 2), textcoords='offset points', ha='right', va='bottom',
                 fontsize=8, color=TXT)

    # scatter over time
    ax = fig.add_axes(px_box(203, y0, 1224, y1))
    sub = df[df['reason'] == reason]
    sns.scatterplot(data=sub, x='date', y='seconds', color=colors[i], s=8,
                    linewidth=0, ax=ax, legend=False, zorder=3)
    style_cell(ax, first)
    ax.set_xlim(*XLIM)
    ax.tick_params(axis='y', length=0, labelleft=False)
    ax.text(2017.13, p_y[i], p_values[i], fontsize=7.5, color=TXT,
            ha='left', va='center')
    if last:
        ax.set_xticks(years + [2017])
        ax.set_xticklabels([str(y) for y in years + [2017]])
        ax.xaxis.set_minor_locator(mticker.MultipleLocator(1 / 12))
        ax.tick_params(axis='x', which='major', bottom=True, length=4, width=0.8,
                       color='#999999', labelsize=8.5, labelcolor=TXT, pad=3)
        ax.tick_params(axis='x', which='minor', bottom=True, length=2, width=0.6,
                       color='#aaaaaa')
    else:
        ax.set_xticks([])

    # 2015-16 median
    axr = fig.add_axes(px_box(1232, y0, 1288, y1))
    style_cell(axr, first)
    axr.spines['right'].set_visible(False)
    axr.set_xlim(0, 1)
    axr.set_xticks([])
    axr.tick_params(axis='y', length=0, labelleft=False)
    m = median_1516[i]
    axr.hlines(m, 0, 1, color='#1a1a1a', lw=2)
    axr.annotate(f'{m:g}', xy=(0.92, m), xycoords=('axes fraction', 'data'),
                 xytext=(0, 2), textcoords='offset points', ha='right', va='bottom',
                 fontsize=8, color=TXT)

# headers
fig.text(193 / W, 1 - 33 / H, '2007-08', ha='right', va='center', fontsize=8,
         fontweight='bold', color='#444444')
fig.text(193 / W, 1 - 47 / H, 'Seconds (median)', ha='right', va='center',
         fontsize=8, color=TXT)
fig.text(1234 / W, 1 - 32 / H, '2015-16', ha='left', va='center', fontsize=8,
         fontweight='bold', color='#444444')
fig.text(1234 / W, 1 - 46 / H, '(median)', ha='left', va='center', fontsize=8,
         color=TXT)
fig.text(713 / W, 1 - 44 / H, 'Change over Time for Top 10 Compression Pause Reasons',
         ha='center', va='center', fontsize=11.2, fontweight='bold', color='#333333')

# outer frame
fig.add_artist(patches.Rectangle((7 / W, 1 - 658 / H), 1290 / W, 649 / H,
                                 transform=fig.transFigure, fill=False,
                                 edgecolor='#222222', lw=1.6))

fig.savefig('out.png', dpi=100)
